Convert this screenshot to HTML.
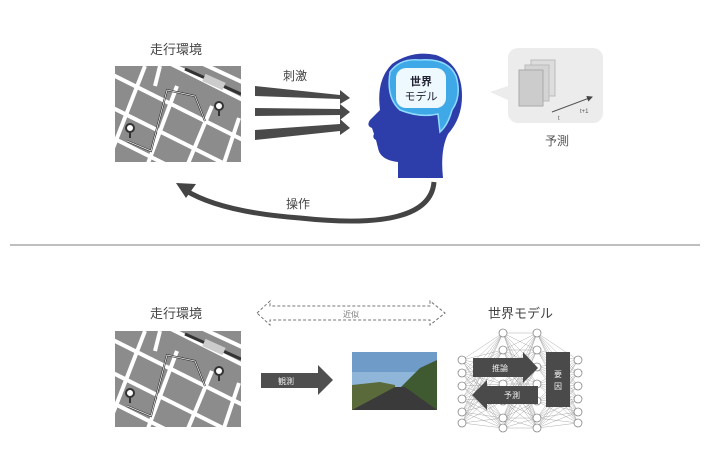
<!DOCTYPE html>
<html><head><meta charset="utf-8"><style>
body{margin:0;background:#fff;}
svg{display:block;font-family:"Liberation Sans","Noto Sans CJK JP",sans-serif;}
</style></head><body>
<svg width="710" height="474" viewBox="0 0 710 474" xmlns="http://www.w3.org/2000/svg">
<defs>
<clipPath id="mc"><rect x="0" y="0" width="126" height="96"/></clipPath>
<g id="map">
<g clip-path="url(#mc)">
<rect width="126" height="96" fill="#8c8c8c"/>
<g stroke="#fff" stroke-width="4" fill="none">
<line x1="-10" y1="5" x2="140" y2="80"/>
<line x1="-10" y1="38" x2="140" y2="113"/>
<line x1="-10" y1="68" x2="140" y2="143"/>
<line x1="20" y1="-20" x2="140" y2="40"/>
<line x1="60" y1="-15" x2="140" y2="22"/>
<line x1="30" y1="0" x2="-5" y2="90"/>
<line x1="62" y1="20" x2="32" y2="100"/>
<line x1="97" y1="40" x2="72" y2="100"/>
<line x1="124" y1="52" x2="108" y2="100"/>
<line x1="45" y1="0" x2="40" y2="20"/>
</g>
<line x1="70" y1="3" x2="126" y2="28" stroke="#333" stroke-width="3"/>
<rect x="88" y="12" width="22" height="8" fill="#ccc" transform="rotate(24 99 16)"/>
<polyline points="12,75 36,85 52,24 80,30 90,55" fill="none" stroke="#333" stroke-width="2"/>
<polyline points="12,75 36,85 52,24 80,30 90,55" fill="none" stroke="#fff" stroke-width="0.7"/>
<circle cx="15" cy="62" r="4" fill="#fff" stroke="#333" stroke-width="2"/><line x1="15" y1="66" x2="15" y2="72" stroke="#333" stroke-width="2"/>
<circle cx="104" cy="40" r="4" fill="#fff" stroke="#333" stroke-width="2"/><line x1="104" y1="44" x2="104" y2="50" stroke="#333" stroke-width="2"/>
</g></g>
<marker id="ah" markerWidth="6" markerHeight="6" refX="5" refY="3" orient="auto"><path d="M0,0 L6,3 L0,6 Z" fill="#444"/></marker>
</defs>

<text x="150" y="54" font-size="13" fill="#444">走行環境</text>
<use href="#map" x="115" y="66"/>
<text x="283" y="80" font-size="12" fill="#444">刺激</text>
<g fill="#4a4a4a">
<polygon points="255,86 340,95 340,90 350,98 340,104 340,99 255,96"/>
<polygon points="255,108 340,109 340,104 350,112 340,120 340,115 255,116"/>
<polygon points="255,130 340,124 340,119 350,128 340,135 340,131 255,140"/>
</g>
<path d="M398,178 L398,162 Q380,160 378,148 L376,140 Q372,138 374,134 L372,128 Q366,126 370,120 L380,110 Q376,80 392,64 Q412,50 436,55 Q462,64 462,96 Q462,118 448,134 Q440,150 443,178 Z" fill="#2d3eaa"/>
<path d="M390,72 Q400,58 420,60 Q448,58 456,76 Q462,96 452,110 Q448,125 440,132 L438,114 Q420,118 400,110 Q386,98 390,72 Z" fill="#3fa9e8" stroke="#8fdcff" stroke-width="1.5"/>
<rect x="396" y="68" width="50" height="40" rx="10" fill="#eef8ff"/>
<text x="421" y="85" font-size="11" fill="#223" text-anchor="middle" font-weight="bold">世界</text>
<text x="421" y="100" font-size="11" fill="#223" text-anchor="middle">モデル</text>
<rect x="508" y="48" width="95" height="75" rx="10" fill="#ececec"/>
<polygon points="508,86 490,92 508,100" fill="#ececec"/>
<rect x="531" y="60" width="24" height="36" fill="#ddd" stroke="#bbb"/>
<rect x="525" y="65" width="24" height="36" fill="#d4d4d4" stroke="#bbb"/>
<rect x="519" y="70" width="24" height="36" fill="#ccc" stroke="#aaa"/>
<line x1="552" y1="112" x2="592" y2="97" stroke="#555" stroke-width="1" marker-end="url(#ah)"/>
<text x="558" y="120" font-size="6" fill="#555">t</text>
<text x="580" y="113" font-size="6" fill="#555">t+1</text>
<text x="545" y="145" font-size="12" fill="#555">予測</text>
<path d="M434,182 Q430,232 300,218 Q220,212 185,190" fill="none" stroke="#444" stroke-width="5"/>
<polygon points="176,183 196,184 186,198" fill="#444"/>
<text x="286" y="208" font-size="12" fill="#444">操作</text>
<line x1="10" y1="245" x2="700" y2="245" stroke="#aaa" stroke-width="1.5"/>

<text x="150" y="318" font-size="13" fill="#444">走行環境</text>
<use href="#map" x="115" y="331"/>
<path d="M257,313 L270,301 L270,306 L430,306 L430,301 L445,313 L430,325 L430,320 L270,320 L270,325 Z" fill="none" stroke="#777" stroke-dasharray="3,2"/>
<text x="343" y="317" font-size="8" fill="#777">近似</text>
<text x="488" y="318" font-size="13" fill="#444">世界モデル</text>
<polygon points="261,373 318,373 318,365 333,380 318,395 318,388 261,388" fill="#4f4f4f"/>
<text x="286" y="384" font-size="8" fill="#eee" text-anchor="middle">観測</text>
<rect x="352" y="352" width="85" height="58" fill="#8fb6d8"/>
<rect x="352" y="352" width="85" height="20" fill="#6f9bc8"/>
<polygon points="352,385 380,382 395,385 395,410 352,410" fill="#5a6a3a"/>
<polygon points="420,368 437,360 437,410 405,410 400,388" fill="#3f5a30"/>
<polygon points="352,410 395,387 405,387 437,410" fill="#3a3a3a"/>
<g id="net" stroke="#999" stroke-width="0.4" fill="none"></g>
<g id="nodes" fill="#fff" stroke="#888" stroke-width="0.8"></g>
<polygon points="473,358 523,358 523,352 538,368 523,383 523,377 473,377" fill="#4a4a4a"/>
<text x="500" y="371" font-size="8" fill="#eee" text-anchor="middle">推論</text>
<polygon points="538,386 487,386 487,380 472,395 487,410 487,404 538,404" fill="#4a4a4a"/>
<text x="512" y="398" font-size="8" fill="#eee" text-anchor="middle">予測</text>
<rect x="546" y="352" width="24" height="55" fill="#4a4a4a"/>
<text x="558" y="377" font-size="8" fill="#eee" text-anchor="middle">要</text>
<text x="558" y="389" font-size="8" fill="#eee" text-anchor="middle">因</text>
<script>
var cols=[[462,[360,373,386,399,412,423]],[503,[333,350,367,384,401,418,428]],[537,[333,350,367,384,401,418,428]],[578,[360,373,386,399,412,423]]];
var net=document.getElementById('net'),nodes=document.getElementById('nodes'),ns='http://www.w3.org/2000/svg';
for(var c=0;c<3;c++){var a=cols[c],b=cols[c+1];a[1].forEach(function(y1){b[1].forEach(function(y2){var l=document.createElementNS(ns,'line');l.setAttribute('x1',a[0]);l.setAttribute('y1',y1);l.setAttribute('x2',b[0]);l.setAttribute('y2',y2);net.appendChild(l);});});}
cols.forEach(function(c){c[1].forEach(function(y){var e=document.createElementNS(ns,'circle');e.setAttribute('cx',c[0]);e.setAttribute('cy',y);e.setAttribute('r',4);nodes.appendChild(e);});});
</script>
</svg>
</body></html>
